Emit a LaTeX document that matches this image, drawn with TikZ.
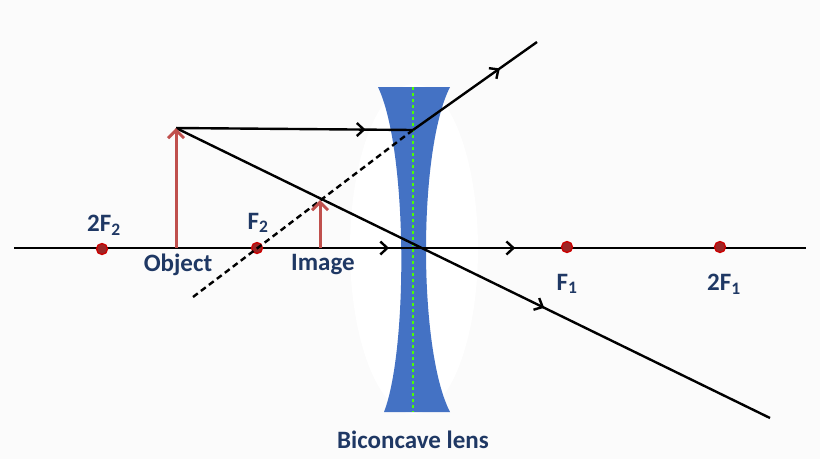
\documentclass[tikz,border=0pt]{standalone}
\usepackage{fontspec}
\setmainfont{Carlito}
\usetikzlibrary{decorations.markings,arrows.meta}
\definecolor{navy}{RGB}{31,56,100}
\definecolor{lensblue}{RGB}{68,114,196}
\definecolor{objred}{RGB}{192,80,77}
\begin{document}
\begin{tikzpicture}[x=1pt,y=-1pt,
  ray/.style={line width=2.4pt},
  mark at/.style={postaction={decorate},decoration={markings,mark=at position #1 with {\arrow{Straight Barb[length=7pt,width=13pt,line width=2.4pt]}}}},
  focus/.style={circle,draw=red!80!black,fill=red!55!black!85,line width=1.3pt,inner sep=0pt,minimum size=11pt},
  lbl/.style={text=navy,font=\fontsize{25}{28}\selectfont\bfseries},
  obj/.style={draw=objred,line width=3pt,-{Straight Barb[length=8pt,width=16pt,line width=3pt]}}]
\useasboundingbox (0,0) rectangle (820,459);
\fill[gray!3] (0,0) rectangle (820,459);
% lens
\fill[white] (414,249) ellipse (64 and 165);
\fill[lensblue] (378,87) -- (450,87) .. controls (418,150) and (418,350) .. (450,412)
  -- (384,412) .. controls (408,350) and (408,150) .. (378,87) -- cycle;
\draw[green!70!yellow,dashed,line width=1.2pt] (413,87) -- (413,412);
% axis
\coordinate (left) at (14,248);
\coordinate (right) at (806,248);
\coordinate (C) at (413,248);
\draw[ray,mark at=0.94] (left) -- (C);
\draw[ray,mark at=0.26] (C) -- (right);
\node[focus] (ff2) at (102,249) {};
\node[focus] (f2) at (257,248) {};
\node[focus] (f1) at (567,247) {};
\node[focus] (ff1) at (720,247) {};
% object and image
\coordinate (obase) at (176,248);
\coordinate (otip) at (176,128);
\coordinate (ibase) at (320,248);
\coordinate (itip) at (320,200);
\coordinate (hit) at (413,130);
\coordinate (out) at (537,42);
\coordinate (back) at (193,297);
\coordinate (end) at (770,418);
% rays
\draw[ray,mark at=0.8] (otip) -- (hit);
\draw[ray,mark at=0.7] (hit) -- (out);
\draw[ray,dashed,dash pattern=on 6pt off 4pt] (back) -- (hit);
\draw[ray,mark at=0.62] (otip) -- (end);
\draw[obj] (obase) -- (otip);
\draw[obj] (ibase) -- (itip);
% labels
\node[lbl] (l2f2) at (104,225) {2F$_\mathbf{2}$};
\node[lbl] (lobj) at (178,265) {Object};
\node[lbl] (lf2) at (258,223) {F$_\mathbf{2}$};
\node[lbl] (limg) at (323,265) {Image};
\node[lbl] (lf1) at (567,284) {F$_\mathbf{1}$};
\node[lbl] (l2f1) at (724,284) {2F$_\mathbf{1}$};
\node[lbl] (llens) at (413,440) {Biconcave lens};
\end{tikzpicture}
\end{document}
